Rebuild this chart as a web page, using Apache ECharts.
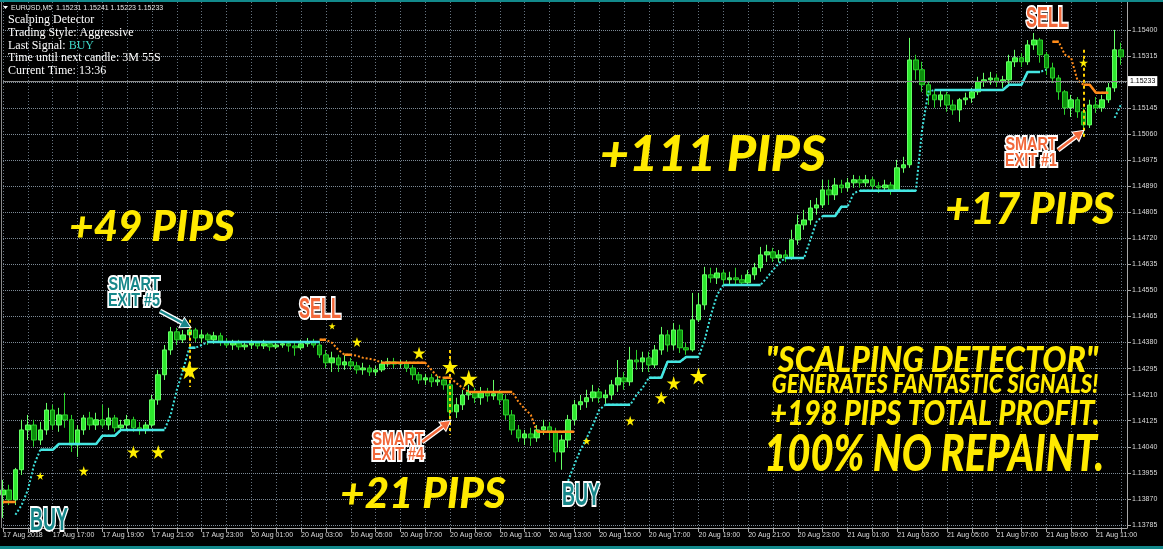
<!DOCTYPE html>
<html><head><meta charset="utf-8">
<script src="https://cdn.jsdelivr.net/npm/echarts@6/dist/echarts.min.js"></script>
<style>html,body{margin:0;padding:0;background:#000;}#c{width:1163px;height:549px;}</style>
</head><body><div id="c"></div>
<script>
// ---- time axis: 15-minute candles, weekend skipped ----
const sessions = [['17 Aug', 15, 36], ['20 Aug', 0, 96], ['21 Aug', 0, 49]];
const xTickLabels = ['17 Aug 2018','17 Aug 17:00','17 Aug 19:00','17 Aug 21:00','17 Aug 23:00','20 Aug 01:00','20 Aug 03:00','20 Aug 05:00','20 Aug 07:00','20 Aug 09:00','20 Aug 11:00','20 Aug 13:00','20 Aug 15:00','20 Aug 17:00','20 Aug 19:00','20 Aug 21:00','20 Aug 23:00','21 Aug 01:00','21 Aug 03:00','21 Aug 05:00','21 Aug 07:00','21 Aug 09:00','21 Aug 11:00'];
const yTicks = [1.13785,1.1387,1.13955,1.1404,1.14125,1.1421,1.14295,1.1438,1.14465,1.1455,1.14635,1.1472,1.14805,1.1489,1.14975,1.1506,1.15145,1.1523,1.15315,1.154];
const currentPrice = 1.15233;

// ---- EURUSD candles ----
const openP = [1.13883,1.13899,1.13867,1.13965,1.14095,1.14111,1.14062,1.14095,1.14160,1.14111,
1.14144,1.14128,1.14046,1.14095,1.14134,1.14111,1.14128,1.14111,1.14134,1.14102,
1.14111,1.14128,1.14102,1.14095,1.14111,1.14193,1.14275,1.14356,1.14415,1.14389,
1.14405,1.14421,1.14395,1.14405,1.14389,1.14402,1.14382,1.14372,1.14379,1.14366,
1.14372,1.14379,1.14369,1.14376,1.14366,1.14372,1.14376,1.14369,1.14363,1.14376,
1.14382,1.14372,1.14340,1.14314,1.14330,1.14307,1.14317,1.14304,1.14291,1.14297,
1.14284,1.14291,1.14310,1.14317,1.14310,1.14314,1.14297,1.14275,1.14258,1.14265,
1.14252,1.14258,1.14242,1.14154,1.14177,1.14209,1.14219,1.14200,1.14216,1.14206,
1.14213,1.14193,1.14144,1.14095,1.14069,1.14082,1.14069,1.14095,1.14105,1.14089,
1.14023,1.14062,1.14128,1.14177,1.14187,1.14200,1.14219,1.14200,1.14209,1.14242,
1.14265,1.14252,1.14323,1.14317,1.14330,1.14307,1.14356,1.14405,1.14372,1.14421,
1.14363,1.14356,1.14454,1.14503,1.14601,1.14591,1.14607,1.14585,1.14591,1.14585,
1.14575,1.14601,1.14624,1.14666,1.14676,1.14656,1.14666,1.14656,1.14715,1.14764,
1.14780,1.14819,1.14829,1.14878,1.14862,1.14894,1.14885,1.14901,1.14911,1.14901,
1.14911,1.14891,1.14885,1.14894,1.14878,1.14950,1.14960,1.15302,1.15270,1.15221,
1.15188,1.15172,1.15188,1.15155,1.15139,1.15172,1.15178,1.15198,1.15231,1.15237,
1.15243,1.15231,1.15237,1.15296,1.15309,1.15296,1.15351,1.15367,1.15319,1.15276,
1.15243,1.15198,1.15146,1.15172,1.15133,1.15090,1.15155,1.15146,1.15172,1.15211,
1.15335];
const closeP = [1.13899,1.13867,1.13965,1.14095,1.14111,1.14062,1.14095,1.14160,1.14111,1.14144,
1.14128,1.14046,1.14095,1.14134,1.14111,1.14128,1.14111,1.14134,1.14102,1.14111,
1.14128,1.14102,1.14095,1.14111,1.14193,1.14275,1.14356,1.14415,1.14389,1.14405,
1.14421,1.14395,1.14405,1.14389,1.14402,1.14382,1.14372,1.14379,1.14366,1.14372,
1.14379,1.14369,1.14376,1.14366,1.14372,1.14376,1.14369,1.14363,1.14376,1.14382,
1.14372,1.14340,1.14314,1.14330,1.14307,1.14317,1.14304,1.14291,1.14297,1.14284,
1.14291,1.14310,1.14317,1.14310,1.14314,1.14297,1.14275,1.14258,1.14265,1.14252,
1.14258,1.14242,1.14154,1.14177,1.14209,1.14219,1.14200,1.14216,1.14206,1.14213,
1.14193,1.14144,1.14095,1.14069,1.14082,1.14069,1.14095,1.14105,1.14089,1.14023,
1.14062,1.14128,1.14177,1.14187,1.14200,1.14219,1.14200,1.14209,1.14242,1.14265,
1.14252,1.14323,1.14317,1.14330,1.14307,1.14356,1.14405,1.14372,1.14421,1.14363,
1.14356,1.14454,1.14503,1.14601,1.14591,1.14607,1.14585,1.14591,1.14585,1.14575,
1.14601,1.14624,1.14666,1.14676,1.14656,1.14666,1.14656,1.14715,1.14764,1.14780,
1.14819,1.14829,1.14878,1.14862,1.14894,1.14885,1.14901,1.14911,1.14901,1.14911,
1.14891,1.14885,1.14894,1.14878,1.14950,1.14960,1.15302,1.15270,1.15221,1.15188,
1.15172,1.15188,1.15155,1.15139,1.15172,1.15178,1.15198,1.15231,1.15237,1.15243,
1.15231,1.15237,1.15296,1.15309,1.15296,1.15351,1.15367,1.15319,1.15276,1.15243,
1.15198,1.15146,1.15172,1.15133,1.15090,1.15155,1.15146,1.15172,1.15211,1.15335,
1.15312];
const lowP = [1.13808,1.13850,1.13850,1.13948,1.14062,1.14040,1.14046,1.14079,1.14095,1.14089,
1.14102,1.14023,1.14007,1.14079,1.14095,1.14095,1.14102,1.14095,1.14089,1.14089,
1.14095,1.14089,1.14079,1.14082,1.14102,1.14177,1.14258,1.14340,1.14372,1.14379,
1.14389,1.14382,1.14379,1.14372,1.14376,1.14369,1.14363,1.14356,1.14356,1.14356,
1.14359,1.14359,1.14359,1.14353,1.14359,1.14363,1.14350,1.14337,1.14356,1.14366,
1.14363,1.14330,1.14297,1.14284,1.14284,1.14291,1.14291,1.14278,1.14275,1.14271,
1.14271,1.14284,1.14301,1.14297,1.14297,1.14284,1.14258,1.14245,1.14242,1.14235,
1.14239,1.14226,1.14128,1.14134,1.14160,1.14193,1.14183,1.14177,1.14187,1.14193,
1.14177,1.14128,1.14079,1.14056,1.14046,1.14043,1.14056,1.14079,1.14062,1.13991,
1.13965,1.14036,1.14111,1.14160,1.14167,1.14187,1.14183,1.14180,1.14193,1.14219,
1.14226,1.14239,1.14291,1.14284,1.14284,1.14297,1.14340,1.14350,1.14356,1.14346,
1.14340,1.14350,1.14447,1.14487,1.14575,1.14571,1.14568,1.14571,1.14571,1.14565,
1.14565,1.14585,1.14611,1.14643,1.14643,1.14643,1.14643,1.14650,1.14699,1.14748,
1.14764,1.14797,1.14819,1.14829,1.14845,1.14868,1.14872,1.14885,1.14885,1.14888,
1.14878,1.14868,1.14872,1.14862,1.14872,1.14934,1.14950,1.15237,1.15198,1.15155,
1.15146,1.15149,1.15133,1.15123,1.15100,1.15155,1.15162,1.15188,1.15214,1.15221,
1.15214,1.15211,1.15221,1.15279,1.15279,1.15286,1.15335,1.15293,1.15253,1.15227,
1.15172,1.15123,1.15116,1.15113,1.15051,1.15080,1.15129,1.15133,1.15162,1.15198,
1.15286];
const highP = [1.13932,1.13916,1.13971,1.14128,1.14144,1.14128,1.14121,1.14183,1.14177,1.14167,
1.14216,1.14144,1.14111,1.14144,1.14154,1.14151,1.14177,1.14167,1.14144,1.14128,
1.14144,1.14138,1.14121,1.14121,1.14209,1.14291,1.14372,1.14431,1.14428,1.14421,
1.14438,1.14428,1.14421,1.14412,1.14415,1.14412,1.14395,1.14389,1.14389,1.14382,
1.14389,1.14385,1.14389,1.14382,1.14382,1.14385,1.14385,1.14379,1.14389,1.14395,
1.14392,1.14382,1.14356,1.14350,1.14340,1.14340,1.14330,1.14317,1.14314,1.14307,
1.14304,1.14323,1.14330,1.14330,1.14323,1.14323,1.14307,1.14284,1.14278,1.14278,
1.14271,1.14268,1.14248,1.14200,1.14226,1.14242,1.14232,1.14235,1.14232,1.14258,
1.14226,1.14209,1.14160,1.14111,1.14095,1.14102,1.14111,1.14128,1.14121,1.14102,
1.14079,1.14144,1.14193,1.14209,1.14226,1.14242,1.14232,1.14226,1.14258,1.14323,
1.14284,1.14366,1.14356,1.14350,1.14350,1.14372,1.14431,1.14421,1.14444,1.14438,
1.14379,1.14542,1.14542,1.14627,1.14624,1.14624,1.14617,1.14611,1.14624,1.14601,
1.14617,1.14640,1.14692,1.14699,1.14689,1.14682,1.14682,1.14748,1.14797,1.14813,
1.14845,1.14852,1.14911,1.14911,1.14917,1.14911,1.14917,1.14927,1.14924,1.14927,
1.14920,1.14904,1.14911,1.14904,1.14976,1.14986,1.15374,1.15319,1.15296,1.15231,
1.15204,1.15204,1.15198,1.15172,1.15178,1.15195,1.15211,1.15247,1.15260,1.15263,
1.15257,1.15250,1.15319,1.15335,1.15325,1.15367,1.15390,1.15374,1.15328,1.15293,
1.15253,1.15204,1.15188,1.15181,1.15146,1.15172,1.15181,1.15188,1.15227,1.15400,
1.15358];

// ---- indicator trails (buy = cyan, sell = orange) ----
const N = null;
const buyTrail = [N,N,1.13818,1.13850,1.13899,1.13981,1.14030,1.14030,1.14030,1.14049,
1.14049,1.14049,1.14049,1.14049,1.14049,1.14049,1.14076,1.14076,1.14076,1.14095,
1.14095,1.14095,1.14095,1.14095,1.14095,1.14095,1.14095,1.14144,1.14226,1.14291,
1.14363,1.14363,1.14372,1.14382,1.14382,1.14382,1.14382,1.14382,1.14382,1.14382,
1.14382,1.14382,1.14382,1.14382,1.14382,1.14382,1.14382,1.14382,1.14382,1.14382,
1.14382,1.14382,N,N,N,N,N,N,N,N,
N,N,N,N,N,N,N,N,N,N,
N,N,N,N,N,N,N,N,N,N,
N,N,N,N,N,N,N,N,N,N,
N,1.13929,1.13981,1.14030,1.14069,1.14111,1.14160,1.14177,1.14177,1.14177,
1.14177,1.14177,1.14209,1.14232,1.14265,1.14265,1.14265,1.14317,1.14317,1.14317,
1.14333,1.14333,1.14333,1.14389,1.14470,1.14536,1.14568,1.14568,1.14568,1.14568,
1.14568,1.14568,1.14568,1.14591,1.14617,1.14640,1.14656,1.14656,1.14656,1.14656,
1.14715,1.14774,1.14793,1.14793,1.14793,1.14823,1.14823,1.14868,1.14875,1.14875,
1.14875,1.14875,1.14875,1.14875,1.14875,1.14875,1.14875,1.14875,1.15074,1.15198,
1.15204,1.15204,1.15204,1.15204,1.15204,1.15204,1.15204,1.15204,1.15204,1.15204,
1.15204,1.15204,1.15221,1.15221,1.15221,1.15263,1.15263,1.15263,1.15270,N,
N,N,N,N,N,N,N,N,N,1.15113,
1.15155];
const sellTrail = [1.13860,1.13860,1.13860,N,N,N,N,N,N,N,
N,N,N,N,N,N,N,N,N,N,
N,N,N,N,N,N,N,N,N,N,
N,N,N,N,N,N,N,N,N,N,
N,N,N,N,N,N,N,N,N,N,
N,1.14389,1.14389,1.14379,1.14356,1.14340,1.14340,1.14337,1.14330,1.14327,
1.14323,1.14314,1.14314,1.14314,1.14314,1.14314,1.14314,1.14314,1.14314,1.14291,
1.14268,1.14265,1.14265,1.14248,1.14232,1.14219,1.14219,1.14219,1.14219,1.14219,
1.14219,1.14219,1.14219,1.14187,1.14164,1.14144,1.14089,1.14089,1.14089,1.14089,
1.14089,1.14089,1.14089,N,N,N,N,N,N,N,
N,N,N,N,N,N,N,N,N,N,
N,N,N,N,N,N,N,N,N,N,
N,N,N,N,N,N,N,N,N,N,
N,N,N,N,N,N,N,N,N,N,
N,N,N,N,N,N,N,N,N,N,
N,N,N,N,N,N,N,N,N,N,
N,N,N,N,N,N,N,N,N,1.15361,
1.15361,1.15319,1.15309,1.15237,1.15221,1.15221,1.15195,1.15195,1.15195,N,
N];
// signal stars: [candle index, price, size]
const stars = [[6,1.13945,8],[13,1.13961,10],[21,1.14023,13],[25,1.14023,14],[30,1.14291,19],
[53,1.14434,7],[57,1.14382,10],[67,1.14346,13],[72,1.14301,16],[75,1.14262,18],
[94,1.14059,8],[101,1.14125,10],[106,1.14200,13],[108,1.14248,14],[112,1.14271,17],[174,1.15293,9]];
// smart-exit markers: [candle index, top price, bottom price]
const exitLines = [[30,1.14454,1.14235],[72,1.14356,1.14079],[174,1.15335,1.15048]];

// ---- build ----
const categories = [];
sessions.forEach(([d, h0, n]) => {
  for (let i = 0; i < n; i++) {
    const m = h0 * 60 + i * 15;
    categories.push(d + ' ' + String(Math.floor(m / 60)).padStart(2, '0') + ':' + String(m % 60).padStart(2, '0'));
  }
});
categories.push('');
const candles = openP.map((o, i) => [o, closeP[i], lowP[i], highP[i]]);
const flatOnly = a => a.map((v, i) => (v != null && (a[i - 1] === v || a[i + 1] === v)) ? v : null);

const STAR = 'path://M50,0 L61,35 L98,35 L68,57 L79,91 L50,70 L21,91 L32,57 L2,35 L39,35 Z';
const GRID = '#66737f';
const HGRID = '#7d8a96';
const AX = '#a8a8a8';

const G = [];
function T(text, x, y, font, fill, extra) {
  G.push(Object.assign({ type: 'text', x: x, y: y, z: 100,
    style: { text: text, x: 0, y: 0, font: font, fill: fill, align: 'center', verticalAlign: 'middle', textAlign: 'center', textVerticalAlign: 'middle' } }, extra || {}));
}
function L(text, x, y, size, color, sx) {
  const font = 'bold ' + size + 'px "Liberation Sans", Roboto, sans-serif';
  G.push({ type: 'text', x: x, y: y, scaleX: sx, z: 100, style: { text: text, x: 0, y: 0, font: font, fill: '#ffffff', stroke: '#ffffff', lineWidth: 4, align: 'center', verticalAlign: 'middle', textAlign: 'center', textVerticalAlign: 'middle' } });
  G.push({ type: 'text', x: x, y: y, scaleX: sx, z: 101, style: { text: text, x: 0, y: 0, font: font, fill: color, align: 'center', verticalAlign: 'middle', textAlign: 'center', textVerticalAlign: 'middle' } });
}
function A(x1, y1, x2, y2, color) {
  const dx = x2 - x1, dy = y2 - y1, len = Math.hypot(dx, dy), ux = dx / len, uy = dy / len;
  const bx = x2 - 9 * ux, by = y2 - 9 * uy;
  const pts = [[x2, y2], [bx - 5 * uy, by + 5 * ux], [bx + 5 * uy, by - 5 * ux]];
  G.push({ type: 'line', z: 99, shape: { x1: x1, y1: y1, x2: bx, y2: by }, style: { stroke: '#ffffff', lineWidth: 5 } });
  G.push({ type: 'polygon', z: 99, shape: { points: pts }, style: { fill: '#ffffff', stroke: '#ffffff', lineWidth: 2 } });
  G.push({ type: 'line', z: 100, shape: { x1: x1, y1: y1, x2: bx, y2: by }, style: { stroke: color, lineWidth: 2.5 } });
  G.push({ type: 'polygon', z: 100, shape: { points: pts }, style: { fill: color } });
}
// frame
G.push({ type: 'rect', z: 100, shape: { x: 0, y: 0, width: 1163, height: 2 }, style: { fill: '#12898b' } });
G.push({ type: 'rect', z: 100, shape: { x: 0, y: 546, width: 1163, height: 3 }, style: { fill: '#12898b' } });
G.push({ type: 'line', z: 100, shape: { x1: 1.5, y1: 2, x2: 1.5, y2: 528 }, style: { stroke: '#8a8a8a', lineWidth: 1 } });
// header
G.push({ type: 'polygon', z: 100, shape: { points: [[3, 6], [8, 6], [5.5, 9]] }, style: { fill: '#ffffff' } });
G.push({ type: 'text', z: 100, x: 11, y: 8, style: { text: 'EURUSD,M5  1.15231 1.15241 1.15223 1.15233', x: 0, y: 0, font: '7px "Liberation Sans", sans-serif', fill: '#e8e8e8', verticalAlign: 'middle', textVerticalAlign: 'middle' } });
const serif = '12px "Liberation Serif", serif';
[['Scalping Detector', 20], ['Trading Style: Aggressive', 33], ['Time until next candle: 3M 55S', 58], ['Current Time: 13:36', 71]].forEach(([t, y]) => {
  G.push({ type: 'text', z: 100, x: 8, y: y, style: { text: t, x: 0, y: 0, font: serif, fill: '#ffffff', verticalAlign: 'middle', textVerticalAlign: 'middle' } });
});
G.push({ type: 'text', z: 100, x: 8, y: 46, style: { text: '{a|Last Signal: }{b|BUY}', x: 0, y: 0, font: serif, fill: '#ffffff', verticalAlign: 'middle', textVerticalAlign: 'middle',
  rich: { a: { font: serif, fill: '#ffffff' }, b: { font: serif, fill: '#3fd8c8' } } } });
// big yellow captions
const Y = '#ffea00';
const BIG = 'italic 900 ';
T('+49 PIPS', 152, 227, BIG + '42px Lato, sans-serif', Y);
T('+111 PIPS', 713, 155, BIG + '50px Lato, sans-serif', Y);
T('+17 PIPS', 1030, 210, BIG + '43px Lato, sans-serif', Y);
T('+21 PIPS', 423, 494, BIG + '42px Lato, sans-serif', Y);
T('"SCALPING DETECTOR"', 932, 360, BIG + '32px Lato, sans-serif', Y, { scaleY: 1.15 });
T('GENERATES FANTASTIC SIGNALS!', 935, 384, BIG + '22px Lato, sans-serif', Y, { scaleY: 1.2 });
T('+198 PIPS TOTAL PROFIT.', 935, 414, BIG + '29px Lato, sans-serif', Y, { scaleY: 1.2 });
T('100% NO REPAINT.', 934, 454, BIG + '40px Lato, sans-serif', Y, { scaleY: 1.28 });
// signal labels
const TEAL = '#17878a', ORG = '#f2683a';
A(160, 311, 190, 327, TEAL);
A(422, 442, 450, 421, ORG);
A(1058, 150, 1083, 131, ORG);
L('SMART', 134, 285, 18, TEAL, 0.8); L('EXIT #5', 134, 301, 18, TEAL, 0.8);
L('SMART', 398, 440, 18, ORG, 0.8); L('EXIT #4', 398, 455, 18, ORG, 0.8);
L('SMART', 1031, 145, 18, ORG, 0.8); L('EXIT #1', 1031, 161, 18, ORG, 0.8);
L('SELL', 320, 310, 30, ORG, 0.55);
L('SELL', 1047, 19, 30, ORG, 0.55);
L('BUY', 581, 496, 32, TEAL, 0.56);
L('BUY', 49, 521, 32, TEAL, 0.56);

const chart = echarts.init(document.getElementById('c'));
chart.setOption({
  backgroundColor: '#000000',
  animation: false,
  grid: { left: 3, right: 36, top: 2, bottom: 21 },
  xAxis: {
    type: 'category', data: categories, boundaryGap: false,
    axisLine: { lineStyle: { color: AX } },
    axisTick: { interval: i => i % 4 === 0, length: 4, lineStyle: { color: AX } },
    axisLabel: { interval: i => i % 8 === 0, formatter: (v, i) => (i % 8 === 0 ? (xTickLabels[i / 8] || '') : ''),
      align: 'left', color: '#dcdcdc', fontSize: 7, fontFamily: 'Liberation Sans', margin: 4 },
    splitLine: { show: true, interval: i => i % 4 === 0, lineStyle: { color: GRID, type: [1, 2], width: 1 } }
  },
  yAxis: {
    type: 'value', position: 'right', min: 1.13775, max: 1.15491, scale: true,
    axisLine: { show: true, lineStyle: { color: AX } },
    axisTick: { show: true, customValues: yTicks, length: 4, lineStyle: { color: AX } },
    axisLabel: { customValues: yTicks.filter(v => v !== 1.1523), formatter: v => v.toFixed(5), color: '#dcdcdc', fontSize: 7, fontFamily: 'Liberation Sans', margin: 5 },
    splitLine: { show: false }
  },
  graphic: { elements: G },
  series: [
    { type: 'candlestick', data: candles, barWidth: 5, z: 3,
      itemStyle: { color: '#2ee82e', color0: '#0c8f0c', borderColor: '#66ff66', borderColor0: '#2ad12a', borderWidth: 1 } },
    { type: 'line', data: buyTrail, symbol: 'none', z: 4, silent: true, lineStyle: { color: '#3fe0dc', width: 2, type: 'dotted' },
      markLine: { silent: true, precision: 5, symbol: ['none', 'none'], animation: false,
        lineStyle: { color: '#8c8c8c', type: 'solid', width: 1 },
        label: { show: true, position: 'end', formatter: currentPrice.toFixed(5), color: '#000', backgroundColor: '#fff', fontSize: 7, fontFamily: 'Liberation Sans', padding: [2, 2, 1, 2], distance: 1 },
        data: [{ yAxis: currentPrice }] } },
    { type: 'line', data: flatOnly(buyTrail), symbol: 'none', z: 4, silent: true, lineStyle: { color: '#45e6e2', width: 2.5 } },
    { type: 'line', data: sellTrail, symbol: 'none', z: 4, silent: true, lineStyle: { color: '#ff8c1a', width: 2, type: 'dotted' },
      markLine: { silent: true, precision: 5, symbol: ['none', 'none'], animation: false, z: 1,
        label: { show: false }, emphasis: { disabled: true },
        lineStyle: { color: HGRID, type: 'dotted', width: 1 },
        data: yTicks.map(v => ({ yAxis: v })) } },
    { type: 'line', data: flatOnly(sellTrail), symbol: 'none', z: 4, silent: true, lineStyle: { color: '#ff8c1a', width: 2.5 } },
    { type: 'scatter', data: stars, symbol: STAR, symbolSize: v => v[2], z: 6, silent: true,
      itemStyle: { color: '#ffee00', opacity: 1 },
      markLine: { silent: true, precision: 5, symbol: ['none', 'none'], label: { show: false }, animation: false,
        lineStyle: { color: '#ffd000', type: [3, 3], width: 2 },
        data: exitLines.map(e => [{ coord: [e[0], e[1]] }, { coord: [e[0], e[2]] }]) } }
  ]
});
</script>
</body></html>
